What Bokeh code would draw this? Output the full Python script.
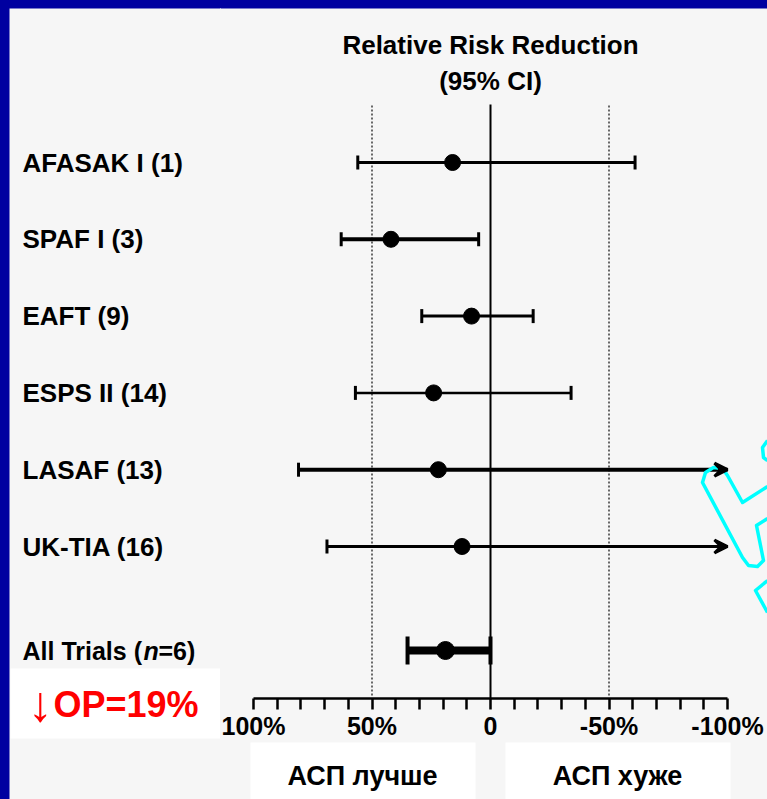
from bokeh.plotting import figure
from bokeh.layouts import row, column
from bokeh.models import Range1d, FixedTicker, Arrow, VeeHead, ColumnDataSource
from bokeh.core.properties import value
from bokeh.embed import file_html
from bokeh.resources import INLINE

# ---------------- data ----------------
trials = ["AFASAK I (1)", "SPAF I (3)", "EAFT (9)", "ESPS II (14)", "LASAF (13)", "UK-TIA (16)"]
rrr = [16, 42, 8, 24, 22, 12]                 # relative risk reduction, %
ci_low = [56, 63, 29, 57, 81, 69]             # CI bound on the "better" side
ci_high = [-61, 5, -18, -34, -100, -100]      # CI bound on the "worse" side
ci_open = [False, False, False, False, True, True]   # CI continues beyond -100%
pooled_label = ["All Trials (", "n", "=6)"]
pooled_rrr = 19
pooled_low = 35
pooled_high = 0
tick_values = [100, 50, 0, -50, -100]
tick_labels = ["100%", "50%", "0", "-50%", "-100%"]
minor_values = [90, 80, 70, 60, 40, 30, 20, 10, -10, -20, -30, -40, -60, -70, -80, -90]
title_lines = ["Relative Risk Reduction", "(95% CI)"]
summary_parts = ["\u2193", "ОР=19%"]
side_texts = ["АСП лучше", "АСП хуже"]

# ---------------- layout helpers (page pixels -> data) ----------------
FONT = value("Liberation Sans")
BG = "#f6f6f6"
BLUE = "#0000a0"
PAGE_W, PAGE_H = 767, 799
LEFT_W = 220          # width of the label column
AXIS_Y = 698          # page y of the x axis line
BOT_Y = 742           # page y where the bottom text boxes start
U = 76.8              # pixels per row


def vx(px):           # page x -> RRR %
    return (490 - px) / 2.37


def ry(py):           # page y -> row units
    return 7 - (py - 162) / U


n = len(trials)
rows = [n + 1 - i for i in range(n)]
pooled_row = ry(650)

# ================= left column: trial names, summary =================
left = figure(width=LEFT_W, height=PAGE_H, output_backend="svg", toolbar_location=None,
              x_range=Range1d(0, LEFT_W), y_range=Range1d(ry(PAGE_H), ry(0)),
              x_axis_location=None, y_axis_location=None,
              min_border=0, background_fill_color=None, border_fill_color=None,
              outline_line_color=None)
left.grid.grid_line_color = None
left.quad(left=[-5, -5], right=[9, LEFT_W + 5], bottom=[ry(PAGE_H + 5), ry(8)],
          top=[ry(-5), ry(-5)], color=BLUE, line_width=0)
left.text(x=22, y=rows, text=trials, text_align="left", text_baseline="middle",
          text_font=FONT, text_font_style="bold", text_font_size="26px", text_color="black")
left.text(x=[22], y=[pooled_row], text=[pooled_label[0]], text_align="left",
          text_baseline="middle", text_font=FONT, text_font_style="bold",
          text_font_size="25px", text_color="black")
left.text(x=[143], y=[pooled_row], text=[pooled_label[1]], text_align="left",
          text_baseline="middle", text_font=FONT, text_font_style="bold italic",
          text_font_size="25px", text_color="black")
left.text(x=[158], y=[pooled_row], text=[pooled_label[2]], text_align="left",
          text_baseline="middle", text_font=FONT, text_font_style="bold",
          text_font_size="25px", text_color="black")
left.quad(left=[10], right=[LEFT_W + 5], bottom=[ry(738)], top=[ry(668)], color="white",
          line_width=0)
left.text(x=[40], y=[ry(703)], text=[summary_parts[0]], text_align="center",
          text_baseline="middle", text_font=FONT, text_font_size="50px",
          text_color="#ff0000")
left.text(x=[53], y=[ry(704)], text=[summary_parts[1]], text_align="left",
          text_baseline="middle", text_font=FONT, text_font_style="bold",
          text_font_size="36px", text_color="#ff0000")

# ================= main plot =================
xr = Range1d(vx(LEFT_W), vx(PAGE_W))
p = figure(width=PAGE_W - LEFT_W, height=BOT_Y, output_backend="svg", toolbar_location=None,
           x_range=xr, y_range=Range1d(ry(AXIS_Y), ry(0)), y_axis_location=None,
           min_border_left=0, min_border_right=0, min_border_top=0,
           min_border_bottom=BOT_Y - AXIS_Y,
           background_fill_color=None, border_fill_color=None, outline_line_color=None)
p.grid.grid_line_color = None
p.quad(left=[vx(LEFT_W - 5)], right=[vx(PAGE_W + 5)], bottom=[ry(8)], top=[ry(-5)],
       color=BLUE, line_width=0)

ax = p.xaxis[0]
ax.bounds = (-100, 100)
ax.ticker = FixedTicker(ticks=tick_values, minor_ticks=minor_values)
ax.major_label_overrides = {v: t for v, t in zip(tick_values, tick_labels)}
ax.axis_line_width = 2.5
ax.axis_line_color = "black"
ax.major_tick_line_width = 2.5
ax.minor_tick_line_width = 2.5
ax.major_tick_in = 0
ax.major_tick_out = 11
ax.minor_tick_in = 0
ax.minor_tick_out = 11
ax.major_label_standoff = 2
ax.major_label_text_font = "Liberation Sans"
ax.major_label_text_font_style = "bold"
ax.major_label_text_font_size = "25px"
ax.major_label_text_color = "black"

# reference lines
ref_top = ry(104)
p.segment(x0=[0], y0=[ry(AXIS_Y)], x1=[0], y1=[ref_top], line_color="black", line_width=2)
p.segment(x0=[50, -50], y0=[ry(695)] * 2, x1=[50, -50], y1=[ref_top] * 2,
          line_color="#444444", line_width=1.6, line_dash="2 2")

# title
p.text(x=[0, 0], y=[ry(44), ry(80)], text=title_lines, text_align="center",
       text_baseline="middle", text_font=FONT, text_font_style="bold",
       text_font_size="26px", text_color="black")

# trials
lw = [3, 4, 3, 2.5, 4, 3]
src = ColumnDataSource(dict(y=rows, est=rrr, lo=ci_low, hi=ci_high, lw=lw))
p.segment(x0="lo", y0="y", x1="hi", y1="y", line_width="lw", line_color="black", source=src)
cap = 7 / U
p.segment(x0=ci_low, y0=[r - cap for r in rows], x1=ci_low, y1=[r + cap for r in rows],
          line_width=3, line_color="black")
closed = [i for i in range(n) if not ci_open[i]]
p.segment(x0=[ci_high[i] for i in closed], y0=[rows[i] - cap for i in closed],
          x1=[ci_high[i] for i in closed], y1=[rows[i] + cap for i in closed],
          line_width=3, line_color="black")
for i in range(n):
    if ci_open[i]:
        p.add_layout(Arrow(end=VeeHead(size=13, line_width=3, line_color="black",
                                       fill_color="black"),
                           x_start=ci_high[i] + 4, y_start=rows[i],
                           x_end=ci_high[i], y_end=rows[i], line_width=3,
                           line_color="black"))
p.scatter(x="est", y="y", size=16, color="black", source=src)

# pooled estimate
pcap = 14 / U
p.segment(x0=[pooled_low], y0=[pooled_row], x1=[pooled_high], y1=[pooled_row],
          line_width=8, line_color="black")
p.segment(x0=[pooled_low, pooled_high], y0=[pooled_row - pcap] * 2,
          x1=[pooled_low, pooled_high], y1=[pooled_row + pcap] * 2,
          line_width=4, line_color="black")
p.scatter(x=[pooled_rrr], y=[pooled_row], size=18, color="black")

# decorative cyan outline (partly off the right edge)
cyan_paths_px = [
    [(767, 486), (742, 502), (727, 475), (722, 468), (713, 467), (705, 472), (702, 482),
     (742, 557), (748, 565), (757, 566), (763, 560), (756, 525), (767, 518)],
    [(767, 440), (762, 447), (763, 457), (767, 460)],
    [(767, 580), (755, 590), (767, 612)],
]
for path in cyan_paths_px:
    p.line([vx(a) for a, b in path], [ry(b) for a, b in path], line_color="#00ffff",
           line_width=3.5, line_join="round")

# ================= bottom strip: "better / worse" boxes =================
bot = figure(width=PAGE_W - LEFT_W, height=PAGE_H - BOT_Y, output_backend="svg",
             toolbar_location=None, x_range=xr, y_range=Range1d(0, 1),
             x_axis_location=None, y_axis_location=None, min_border=0,
             background_fill_color=None, border_fill_color=None, outline_line_color=None)
bot.grid.grid_line_color = None
bot.quad(left=[vx(250), vx(505)], right=[vx(475), vx(730)], bottom=[0, 0], top=[1.2, 1.2],
         color="white", line_width=0)
bot.text(x=[vx(362), vx(617)], y=[0.42, 0.42], text=side_texts, text_align="center",
         text_baseline="middle", text_font=FONT, text_font_style="bold",
         text_font_size="27px", text_color="black")

layout = row(left, column(p, bot, spacing=0), spacing=0,
             styles={"background": "linear-gradient(#0000a0,#0000a0) 0 0/9px 100% no-repeat,"
                                   "linear-gradient(#0000a0 0 8px, #f6f6f6 8px)"})
open("out.html", "w").write(file_html(layout, INLINE))
